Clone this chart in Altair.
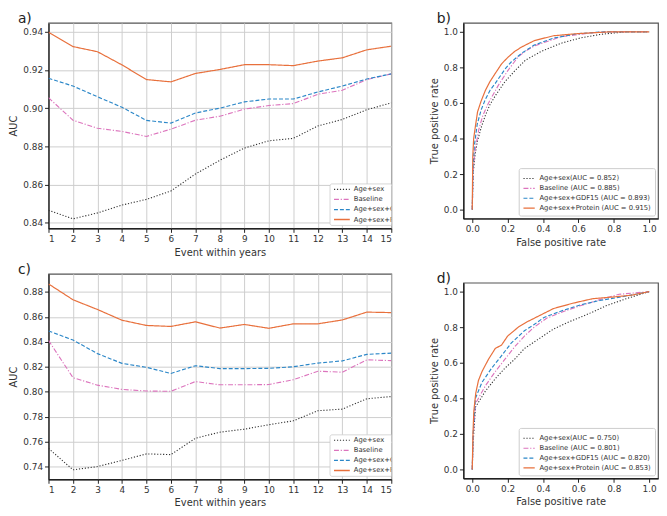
import altair as alt
import pandas as pd

# ---------------- data ----------------
series = ["Age+sex", "Baseline", "Age+sex+GDF15", "Age+sex+Protein"]
years = list(range(1, 16))

# panel a (AUC by horizon)
a_agesex = [0.8465, 0.8420, 0.8451, 0.8492, 0.8522, 0.8566, 0.8655, 0.8727, 0.8791, 0.8829, 0.8842, 0.8907, 0.8941, 0.8992, 0.9028]
a_baseline = [0.9055, 0.8937, 0.8895, 0.8878, 0.8852, 0.8890, 0.8937, 0.8958, 0.8995, 0.9014, 0.9024, 0.9073, 0.9094, 0.9150, 0.9180]
a_gdf15 = [0.9157, 0.9116, 0.9060, 0.9005, 0.8936, 0.8922, 0.8975, 0.9000, 0.9033, 0.9048, 0.9048, 0.9085, 0.9116, 0.9153, 0.9180]
a_protein = [0.9398, 0.9323, 0.9296, 0.9227, 0.9150, 0.9138, 0.9182, 0.9203, 0.9228, 0.9228, 0.9223, 0.9247, 0.9264, 0.9306, 0.9325]

# panel c (AUC by horizon)
c_agesex = [0.7546, 0.7374, 0.7400, 0.7450, 0.7502, 0.7496, 0.7627, 0.7676, 0.7700, 0.7736, 0.7767, 0.7848, 0.7861, 0.7944, 0.7962]
c_baseline = [0.8412, 0.8113, 0.8053, 0.8019, 0.8006, 0.8004, 0.8082, 0.8056, 0.8056, 0.8058, 0.8097, 0.8165, 0.8157, 0.8256, 0.8250]
c_gdf15 = [0.8488, 0.8415, 0.8306, 0.8228, 0.8196, 0.8147, 0.8209, 0.8186, 0.8186, 0.8188, 0.8201, 0.8230, 0.8248, 0.8300, 0.8310]
c_protein = [0.8865, 0.8738, 0.8660, 0.8574, 0.8532, 0.8524, 0.8561, 0.8511, 0.8540, 0.8509, 0.8545, 0.8545, 0.8576, 0.8639, 0.8635]

# panel b ROC curves (fpr, tpr)
b_labels = ["Age+sex(AUC = 0.852)", "Baseline (AUC = 0.885)", "Age+sex+GDF15 (AUC = 0.893)", "Age+sex+Protein (AUC = 0.915)"]
b_agesex_fpr = [0, 0.005, 0.015, 0.028, 0.05, 0.074, 0.1, 0.13, 0.185, 0.24, 0.3, 0.39, 0.5, 0.61, 0.72, 0.87, 1.0]
b_agesex_tpr = [0, 0.20, 0.30, 0.38, 0.46, 0.53, 0.59, 0.64, 0.72, 0.78, 0.84, 0.89, 0.935, 0.965, 0.985, 1.0, 1.0]
b_baseline_fpr = [0, 0.005, 0.015, 0.037, 0.06, 0.092, 0.12, 0.148, 0.2, 0.26, 0.3, 0.35, 0.5, 0.68, 0.8, 1.0]
b_baseline_tpr = [0, 0.22, 0.33, 0.45, 0.53, 0.60, 0.65, 0.70, 0.78, 0.86, 0.89, 0.92, 0.972, 0.995, 1.0, 1.0]
b_gdf15_fpr = [0, 0.005, 0.012, 0.028, 0.05, 0.074, 0.1, 0.13, 0.185, 0.22, 0.28, 0.35, 0.46, 0.6, 0.75, 1.0]
b_gdf15_tpr = [0, 0.25, 0.36, 0.48, 0.56, 0.62, 0.67, 0.71, 0.79, 0.83, 0.88, 0.925, 0.965, 0.99, 1.0, 1.0]
b_protein_fpr = [0, 0.003, 0.008, 0.018, 0.03, 0.05, 0.074, 0.1, 0.13, 0.166, 0.2, 0.24, 0.28, 0.35, 0.46, 0.6, 0.78, 1.0]
b_protein_tpr = [0, 0.30, 0.40, 0.47, 0.55, 0.61, 0.67, 0.72, 0.766, 0.82, 0.855, 0.89, 0.915, 0.95, 0.978, 0.99, 1.0, 1.0]

# panel d ROC curves (fpr, tpr)
d_labels = ["Age+sex(AUC = 0.750)", "Baseline (AUC = 0.801)", "Age+sex+GDF15 (AUC = 0.820)", "Age+sex+Protein (AUC = 0.853)"]
d_agesex_fpr = [0, 0.005, 0.018, 0.074, 0.13, 0.185, 0.24, 0.295, 0.37, 0.46, 0.535, 0.646, 0.756, 0.87, 1.0]
d_agesex_tpr = [0, 0.15, 0.35, 0.44, 0.51, 0.57, 0.62, 0.68, 0.73, 0.79, 0.825, 0.87, 0.92, 0.96, 1.0]
d_baseline_fpr = [0, 0.005, 0.018, 0.074, 0.13, 0.185, 0.24, 0.295, 0.35, 0.42, 0.52, 0.61, 0.72, 0.83, 1.0]
d_baseline_tpr = [0, 0.18, 0.37, 0.47, 0.55, 0.62, 0.69, 0.75, 0.80, 0.85, 0.89, 0.92, 0.955, 0.985, 1.0]
d_gdf15_fpr = [0, 0.005, 0.018, 0.055, 0.11, 0.166, 0.22, 0.295, 0.35, 0.406, 0.5, 0.61, 0.72, 0.87, 1.0]
d_gdf15_tpr = [0, 0.20, 0.40, 0.49, 0.57, 0.64, 0.71, 0.78, 0.815, 0.855, 0.89, 0.925, 0.95, 0.975, 1.0]
d_protein_fpr = [0, 0.004, 0.009, 0.02, 0.035, 0.055, 0.092, 0.13, 0.166, 0.2, 0.26, 0.31, 0.39, 0.46, 0.57, 0.68, 0.8, 0.9, 1.0]
d_protein_tpr = [0, 0.20, 0.33, 0.43, 0.50, 0.55, 0.62, 0.68, 0.70, 0.75, 0.80, 0.83, 0.87, 0.905, 0.935, 0.96, 0.97, 0.98, 1.0]

a_ticks = [0.84, 0.86, 0.88, 0.90, 0.92, 0.94]
c_ticks = [0.74, 0.76, 0.78, 0.80, 0.82, 0.84, 0.86, 0.88]
roc_ticks = [0.0, 0.2, 0.4, 0.6, 0.8, 1.0]

# ---------------- styles ----------------
colors = ["#333333", "#dc74bd", "#2b87c8", "#e8703c"]
dashes = [[1.2, 1.8], [5, 1.8, 1.2, 1.8], [4, 2], [1, 0]]
widths = [1.1, 1.2, 1.3, 1.5]
FONT = "DejaVu Sans"
LW, LH = 347, 208   # left panels
RW, RH = 197, 198   # right panels


def enc_series(domain, legend):
    return dict(
        color=alt.Color("series:N", scale=alt.Scale(domain=domain, range=colors), legend=legend),
        strokeDash=alt.StrokeDash("series:N", scale=alt.Scale(domain=domain, range=dashes), legend=legend),
        strokeWidth=alt.StrokeWidth("series:N", scale=alt.Scale(domain=domain, range=widths), legend=None),
    )


def roc_legend():
    return alt.Legend(title=None, orient="bottom-right", offset=3, fillColor="white",
                      strokeColor="#cccccc", padding=4, cornerRadius=2,
                      labelFontSize=6.9, labelFont=FONT, labelColor="#333333",
                      symbolType="stroke", symbolSize=130, symbolStrokeWidth=1.4,
                      rowPadding=-1, labelLimit=300, labelOffset=4)


def panel_label(text, dx):
    return alt.Chart(pd.DataFrame({"t": [text]})).mark_text(
        align="left", baseline="alphabetic", fontSize=14, font=FONT, color="#222222"
    ).encode(text="t:N", x=alt.value(dx), y=alt.value(0))


def inner_legend(w, h):
    one = pd.DataFrame({"k": [0]})
    layers = [alt.Chart(one).mark_rect(fill="white", stroke="#cccccc", strokeWidth=0.8,
                                       cornerRadius=2, clip=True).encode(
        x=alt.value(285), x2=alt.value(w + 40), y=alt.value(h - 45), y2=alt.value(h - 3))]
    for i, s in enumerate(series):
        yy = h - 39.5 + 10.2 * i
        layers.append(alt.Chart(one).mark_rule(color=colors[i], strokeDash=dashes[i],
                                               strokeWidth=widths[i], clip=True).encode(
            x=alt.value(289), x2=alt.value(305), y=alt.value(yy)))
        layers.append(alt.Chart(pd.DataFrame({"s": [s]})).mark_text(
            align="left", baseline="middle", fontSize=6.9, font=FONT, color="#333333", clip=True
        ).encode(text="s:N", x=alt.value(309), y=alt.value(yy)))
    return layers


def auc_panel(vals, ydom, yticks, label):
    rows = []
    for s, v in zip(series, vals):
        for yr, val in zip(years, v):
            rows.append({"series": s, "year": yr, "auc": val})
    df = pd.DataFrame(rows)
    lines = alt.Chart(df).mark_line(clip=True).encode(
        x=alt.X("year:Q", scale=alt.Scale(domain=[1, 15], nice=False, zero=False),
                axis=alt.Axis(values=years, title="Event within years", grid=True,
                              gridColor="#cdcdcd", format="d")),
        y=alt.Y("auc:Q", scale=alt.Scale(domain=ydom, nice=False, zero=False),
                axis=alt.Axis(values=yticks, title="AUC", grid=True, gridColor="#cdcdcd",
                              format=".2f")),
        **enc_series(series, None),
    )
    return alt.layer(lines, *inner_legend(LW, LH), panel_label(label, -31)).properties(
        width=LW, height=LH)


def roc_panel(fprs, tprs, labels, label):
    rows = []
    for s, fx, ty in zip(labels, fprs, tprs):
        for i, (a, b) in enumerate(zip(fx, ty)):
            rows.append({"series": s, "fpr": a, "tpr": b, "i": i})
    df = pd.DataFrame(rows)
    lines = alt.Chart(df).mark_line(clip=True).encode(
        x=alt.X("fpr:Q", scale=alt.Scale(domain=[-0.05, 1.05], nice=False, zero=False),
                axis=alt.Axis(values=roc_ticks, title="False positive rate", grid=False, format=".1f")),
        y=alt.Y("tpr:Q", scale=alt.Scale(domain=[-0.05, 1.05], nice=False, zero=False),
                axis=alt.Axis(values=roc_ticks, title="True positive rate", grid=False, format=".1f")),
        order=alt.Order("i:Q"),
        **enc_series(labels, roc_legend()),
    )
    return alt.layer(lines, panel_label(label, -27)).properties(width=RW, height=RH)


pa = auc_panel([a_agesex, a_baseline, a_gdf15, a_protein], [0.837, 0.9447], a_ticks, "a)")
pc = auc_panel([c_agesex, c_baseline, c_gdf15, c_protein], [0.7298, 0.8946], c_ticks, "c)")
pb = roc_panel([b_agesex_fpr, b_baseline_fpr, b_gdf15_fpr, b_protein_fpr],
               [b_agesex_tpr, b_baseline_tpr, b_gdf15_tpr, b_protein_tpr], b_labels, "b)")
pd_ = roc_panel([d_agesex_fpr, d_baseline_fpr, d_gdf15_fpr, d_protein_fpr],
                [d_agesex_tpr, d_baseline_tpr, d_gdf15_tpr, d_protein_tpr], d_labels, "d)")


def indep(c):
    return c.resolve_scale(color="independent", strokeDash="independent",
                           strokeWidth="independent").resolve_legend(
        color="independent", strokeDash="independent")


left = indep(alt.vconcat(pa, pc, spacing=4))
right = indep(alt.vconcat(pb, pd_, spacing=23))

chart = indep(alt.hconcat(left, right, spacing=36)).properties(
    padding={"left": 0, "top": 0, "right": 0, "bottom": 0}
).configure(font=FONT).configure_view(stroke="#555555", strokeWidth=1.2).configure_axis(
    labelFont=FONT, labelFontSize=9, labelColor="#333333", titleFont=FONT, titleFontSize=10,
    titleFontWeight="normal", titleColor="#333333", tickColor="#222222", tickSize=4,
    domainColor="#111111", domainWidth=1.2, labelPadding=2, titlePadding=4,
).configure_axisX(labelAngle=0)

chart.save("out.html", embed_options={"renderer": "svg", "actions": False})
